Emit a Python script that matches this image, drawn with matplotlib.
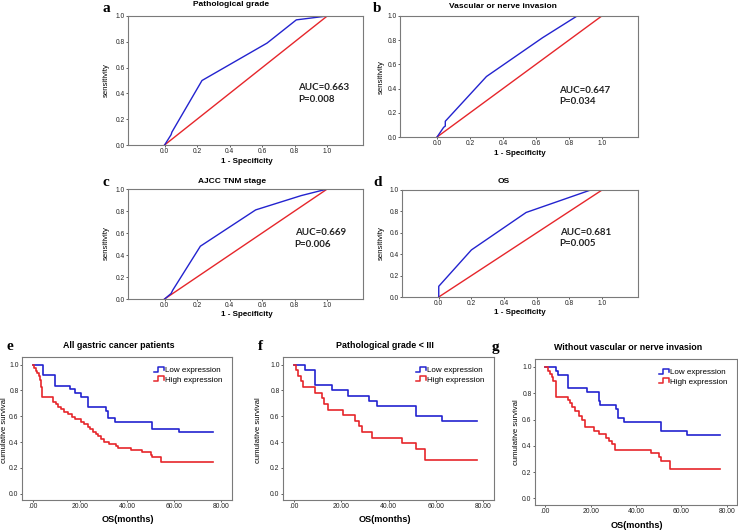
import matplotlib.pyplot as plt
from matplotlib.legend_handler import HandlerBase
from matplotlib.lines import Line2D

# ROC curves: 1 - specificity vs sensitivity
roc_titles = ['Pathological grade', 'Vascular or nerve invasion', 'AJCC TNM stage', 'OS']
roc_letters = ['a', 'b', 'c', 'd']
roc_fpr = [
    [0.0, 0.03, 0.04, 0.045, 0.23, 0.63, 0.81, 1.0],
    [0.0, 0.04, 0.05, 0.05, 0.30, 0.64, 0.85, 1.0],
    [0.0, 0.04, 0.05, 0.22, 0.56, 0.84, 1.0],
    [0.0, 0.0, 0.20, 0.535, 0.93, 1.0],
]
roc_tpr = [
    [0.0, 0.06, 0.08, 0.10, 0.50, 0.79, 0.97, 1.0],
    [0.0, 0.08, 0.09, 0.13, 0.50, 0.82, 1.0, 1.0],
    [0.0, 0.05, 0.08, 0.48, 0.81, 0.94, 1.0],
    [0.0, 0.10, 0.44, 0.79, 1.0, 1.0],
]
auc_text = ['AUC=0.663\nP=0.008', 'AUC=0.647\nP=0.034',
            'AUC=0.669\nP=0.006', 'AUC=0.681\nP=0.005']

# Kaplan-Meier curves (months, cumulative survival)
km_titles = ['All gastric cancer patients', 'Pathological grade < III',
             'Without vascular or nerve invasion']
km_letters = ['e', 'f', 'g']
km_end = [76.6, 77.4, 77.1]
low_t = [
    [0, 4.3, 9.3, 16.0, 18.0, 20.5, 23.5, 31.3, 32.0, 35.0, 50.7, 62.0],
    [0, 4.7, 8.9, 16.0, 23.1, 31.9, 35.2, 51.5, 62.6],
    [0, 4.6, 5.8, 9.9, 18.6, 23.5, 24.3, 31.2, 32.2, 34.8, 51.2, 62.3],
]
low_s = [
    [1.0, 0.92, 0.835, 0.81, 0.78, 0.75, 0.67, 0.64, 0.59, 0.557, 0.50, 0.475],
    [1.0, 0.96, 0.84, 0.80, 0.76, 0.72, 0.68, 0.60, 0.56],
    [1.0, 0.968, 0.935, 0.839, 0.806, 0.742, 0.71, 0.677, 0.613, 0.58, 0.516, 0.484],
]
high_t = [
    [0, 0.5, 1.3, 2.0, 2.7, 3.3, 3.7, 4.1, 8.8, 10.0, 10.8, 12.1, 13.5, 14.9,
     16.7, 18.1, 20.5, 21.9, 23.3, 24.3, 25.4, 26.8, 27.8, 28.9, 30.3, 32.4,
     35.2, 36.2, 41.5, 46.4, 50.0, 50.6, 54.6],
    [0, 1.1, 1.8, 3.0, 4.0, 8.9, 11.8, 12.9, 14.6, 21.0, 26.0, 27.4, 28.8,
     33.0, 45.8, 51.5, 55.5],
    [0, 1.3, 2.0, 2.8, 3.5, 4.6, 9.9, 10.9, 11.9, 13.0, 14.8, 16.0, 17.7,
     21.7, 23.5, 26.8, 28.3, 29.3, 30.7, 46.4, 50.0, 51.2, 55.1],
]
high_s = [
    [1.0, 0.975, 0.955, 0.935, 0.91, 0.88, 0.83, 0.75, 0.713, 0.695, 0.674,
     0.654, 0.635, 0.617, 0.596, 0.576, 0.557, 0.539, 0.518, 0.50, 0.48,
     0.46, 0.445, 0.425, 0.40, 0.385, 0.37, 0.355, 0.335, 0.32, 0.30, 0.285,
     0.245],
    [1.0, 0.957, 0.913, 0.87, 0.826, 0.783, 0.739, 0.696, 0.652, 0.609,
     0.565, 0.522, 0.478, 0.435, 0.391, 0.348, 0.261],
    [1.0, 0.97, 0.945, 0.92, 0.895, 0.77, 0.75, 0.725, 0.695, 0.665, 0.63,
     0.595, 0.545, 0.515, 0.49, 0.46, 0.435, 0.41, 0.37, 0.345, 0.315,
     0.285, 0.227],
]

BLUE = '#2323cf'
RED = '#e6262b'
W, H = 738, 530

fig = plt.figure(figsize=(W / 100, H / 100), dpi=100)
plt.rcParams['font.family'] = 'Liberation Sans'


def add_box(l, t, r, b):
    return fig.add_axes([l / W, 1 - b / H, (r - l) / W, (b - t) / H])


def ftext(x, y, s, **kw):
    fig.text(x / W, 1 - y / H, s, **kw)


def style(ax, size):
    for sp in ax.spines.values():
        sp.set_color('#7a7a7a')
        sp.set_linewidth(0.8)
    ax.tick_params(length=1.5, width=0.6, color='#444444', labelsize=size,
                   pad=1.0, labelcolor='#222222')


class StepHandler(HandlerBase):
    # little step glyph like the SPSS legend
    def create_artists(self, legend, orig_handle, xdescent, ydescent,
                       width, height, fontsize, trans):
        x0, y0 = -xdescent, -ydescent
        xs = [x0, x0 + 0.35 * width, x0 + 0.35 * width, x0 + width, x0 + width]
        ys = [y0 + 0.1 * height, y0 + 0.1 * height, y0 + height, y0 + height,
              y0 + 0.35 * height]
        ln = Line2D(xs, ys, color=orig_handle.get_color(), lw=1.1)
        ln.set_transform(trans)
        return [ln]


# ROC panels
roc_boxes = [(128, 16, 363, 145), (400, 16, 638, 137),
             (128, 189, 363, 299), (402, 190, 638, 297)]
title_pos = [(231, 5), (503, 7), (232, 182), (504, 182)]
letter_pos = [(106, 8), (377, 8), (106, 183), (378, 183)]
xlabel_pos = [(247, 162), (520, 154), (247, 314), (520, 312)]
ylabel_pos = [(106, 80), (381, 77), (106, 243), (381, 243)]
auc_pos = [(0.82, 0.40), (0.74, 0.34), (0.80, 0.55), (0.74, 0.55)]

for i in range(4):
    ax = add_box(*roc_boxes[i])
    ax.plot([0, 1], [0, 1], color=RED, lw=1.0)
    ax.plot(roc_fpr[i], roc_tpr[i], color=BLUE, lw=1.0)
    ax.set_xlim(-0.225, 1.22)
    ax.set_ylim(0, 1)
    ax.set_xticks([0, 0.2, 0.4, 0.6, 0.8, 1.0])
    ax.set_yticks([0, 0.2, 0.4, 0.6, 0.8, 1.0])
    ax.set_xticklabels(['0.0', '0.2', '0.4', '0.6', '0.8', '1.0'])
    ax.set_yticklabels(['0.0', '0.2', '0.4', '0.6', '0.8', '1.0'])
    style(ax, 4.8)
    ax.text(auc_pos[i][0], auc_pos[i][1], auc_text[i], family='Lato',
            fontweight='bold', fontsize=7, linespacing=1.35,
            va='center', ha='left', color='#222222')
    ftext(*title_pos[i], roc_titles[i], fontsize=6, fontweight='bold',
          ha='center', va='center')
    ftext(*letter_pos[i], roc_letters[i], family='Liberation Serif',
          fontsize=11, fontweight='bold', ha='center', va='center')
    ftext(*xlabel_pos[i], '1 - Specificity', fontsize=5.8, fontweight='bold',
          ha='center', va='center')
    ftext(*ylabel_pos[i], 'sensitivity', fontsize=5.6, rotation=90,
          ha='center', va='center')

# Kaplan-Meier panels
km_boxes = [(22, 357, 232, 500), (283, 357, 494, 500), (535, 359, 737, 505)]
km_title_pos = [(119, 346), (385, 346), (628, 347)]
km_letter_pos = [(10, 346), (260, 346), (495, 347)]
km_xlabel_pos = [(128, 520), (385, 520), (637, 526)]
km_ylabel_pos = [(5, 430), (259, 430), (516, 432)]

for i in range(3):
    ax = add_box(*km_boxes[i])
    ax.step(low_t[i] + [km_end[i]], low_s[i] + [low_s[i][-1]], where='post',
            color=BLUE, lw=1.2, label='Low expression')
    ax.step(high_t[i] + [km_end[i]], high_s[i] + [high_s[i][-1]], where='post',
            color=RED, lw=1.2, label='High expression')
    ax.set_xlim(-4.5, 84.5)
    ax.set_ylim(-0.05, 1.06)
    ax.set_xticks([0, 20, 40, 60, 80])
    ax.set_xticklabels(['.00', '20.00', '40.00', '60.00', '80.00'])
    ax.set_yticks([0, 0.2, 0.4, 0.6, 0.8, 1.0])
    ax.set_yticklabels(['0.0', '0.2', '0.4', '0.6', '0.8', '1.0'])
    style(ax, 4.9)
    ax.legend(loc='upper right', frameon=False, fontsize=5.8,
              handler_map={Line2D: StepHandler()}, handlelength=1.2,
              handletextpad=0.1, labelspacing=0.2, borderaxespad=0.8)
    ftext(*km_title_pos[i], km_titles[i], fontsize=6.4, fontweight='bold',
          ha='center', va='center')
    ftext(*km_letter_pos[i], km_letters[i], family='Liberation Serif',
          fontsize=11, fontweight='bold', ha='center', va='center')
    ftext(*km_xlabel_pos[i], 'OS(months)', fontsize=6.6, fontweight='bold',
          ha='center', va='center')
    ftext(*km_ylabel_pos[i], 'cumulative survival', fontsize=5.6, rotation=90,
          ha='center', va='center')

fig.savefig('out.png', dpi=100)
